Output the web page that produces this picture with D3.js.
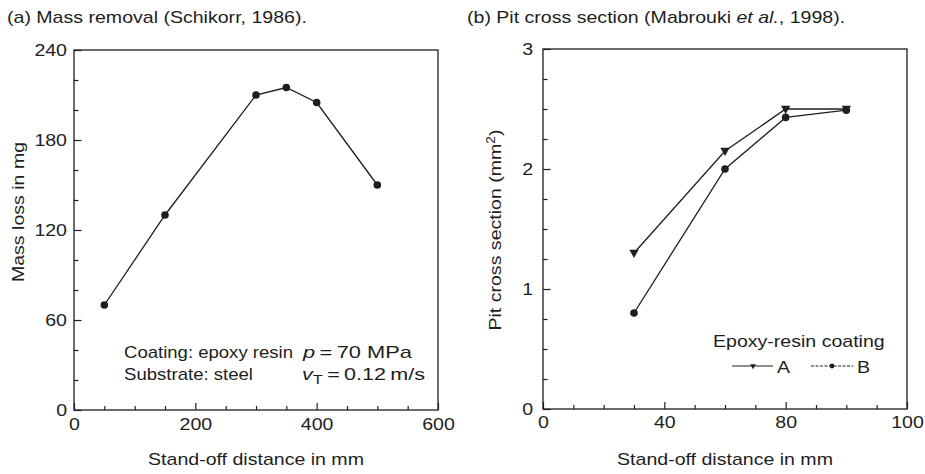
<!DOCTYPE html>
<html><head><meta charset="utf-8">
<script src="https://cdn.jsdelivr.net/npm/d3@7"></script>
<style>
body{margin:0;background:#fff}
text{font-family:"Liberation Sans",Arial,Helvetica,sans-serif;fill:#1e1e1e}
</style>
</head><body>
<svg id="c" width="925" height="474"></svg>
<script>
// ---- data ----
const massDistance = [50, 150, 300, 350, 400, 500];
const massLoss     = [70, 130, 210, 215, 205, 150];
const massXTicks   = [0, 200, 400, 600];
const massYTicks   = [0, 60, 120, 180, 240];

const pitDistance  = [30, 60, 80, 100];
const pitA         = [1.3, 2.15, 2.5, 2.5];
const pitB         = [0.8, 2.0, 2.43, 2.49];
const pitXTicks    = [0, 40, 80, 120];
const pitXTickLabels = ["0", "40", "80", "100"];
const pitYTicks    = [0, 1, 2, 3];
const pitYTickLabels = ["0", "1", "2", "3"];

const ink = "#1e1e1e";
const svg = d3.select("#c");
const FS = 17, STRETCH = 1.15;

function stretch(sel, f) {
  sel.each(function () {
    const l = this.getComputedTextLength();
    this.setAttribute("textLength", (l * f).toFixed(2));
    this.setAttribute("lengthAdjust", "spacingAndGlyphs");
  });
}
function fitTo(sel, w) {
  sel.attr("textLength", w).attr("lengthAdjust", "spacingAndGlyphs");
}

function minorVals(domain, step, majors) {
  const out = [];
  for (let v = domain[0]; v <= domain[1] + 1e-9; v += step) {
    const r = Math.round(v * 1000) / 1000;
    if (!majors.some(m => Math.abs(m - r) < 1e-6)) out.push(r);
  }
  return out;
}

function frame(x, y, o) {
  const g = svg.append("g");
  const [x0, x1] = x.range(), [y0, y1] = y.range();
  const ax = g.append("g").attr("transform", `translate(0,${y0})`)
    .call(d3.axisBottom(x).tickValues(o.xt).tickFormat((d, i) => o.xl[i])
      .tickSizeInner(-7).tickSizeOuter(0).tickPadding(o.xpad));
  ax.select(".domain").remove();
  const axm = g.append("g").attr("transform", `translate(0,${y0})`)
    .call(d3.axisBottom(x).tickValues(minorVals(x.domain(), o.xm, o.xt)).tickFormat("")
      .tickSizeInner(-4).tickSizeOuter(0));
  axm.select(".domain").remove();
  const ay = g.append("g").attr("transform", `translate(${x0},0)`)
    .call(d3.axisLeft(y).tickValues(o.yt).tickFormat((d, i) => o.yl[i])
      .tickSizeInner(-7.5).tickSizeOuter(0).tickPadding(o.ypad));
  ay.select(".domain").remove();
  const aym = g.append("g").attr("transform", `translate(${x0},0)`)
    .call(d3.axisLeft(y).tickValues(minorVals(y.domain(), o.ym, o.yt)).tickFormat("")
      .tickSizeInner(-4.5).tickSizeOuter(0));
  aym.select(".domain").remove();
  g.selectAll("g.tick line").attr("stroke", ink).attr("stroke-width", 1.2);
  [ax, ay, axm, aym].forEach(a => a.attr("font-size", FS).attr("font-family", null));
  g.selectAll("text").attr("fill", ink);
  stretch(g.selectAll("text"), STRETCH);
  g.append("rect").attr("x", x0).attr("y", y1)
    .attr("width", x1 - x0).attr("height", y0 - y1)
    .attr("fill", "none").attr("stroke", ink).attr("stroke-width", 1.3);
  return g;
}

// ---------------- panel (a) ----------------
const xa = d3.scaleLinear().domain([0, 600]).range([74, 438]);
const ya = d3.scaleLinear().domain([0, 240]).range([410, 50]);
frame(xa, ya, {xt: massXTicks, xl: massXTicks.map(String), xm: 50, xpad: 8,
               yt: massYTicks, yl: massYTicks.map(String), ym: 20, ypad: 7});

const massPts = massDistance.map((d, i) => [d, massLoss[i]]);
svg.append("path").datum(massPts)
  .attr("d", d3.line().x(d => xa(d[0])).y(d => ya(d[1])))
  .attr("fill", "none").attr("stroke", ink).attr("stroke-width", 1.3);
svg.append("g").selectAll("circle").data(massPts).join("circle")
  .attr("cx", d => xa(d[0])).attr("cy", d => ya(d[1])).attr("r", 3.8).attr("fill", ink);

// ---------------- panel (b) ----------------
const xb = d3.scaleLinear().domain([0, 120]).range([543, 907]);
const yb = d3.scaleLinear().domain([0, 3]).range([409, 49]);
frame(xb, yb, {xt: pitXTicks, xl: pitXTickLabels, xm: 10, xpad: 7,
               yt: pitYTicks, yl: pitYTickLabels, ym: 0.25, ypad: 10});

const line = d3.line().x(d => xb(d[0])).y(d => yb(d[1]));
const ptsA = pitDistance.map((d, i) => [d, pitA[i]]);
const ptsB = pitDistance.map((d, i) => [d, pitB[i]]);
svg.append("path").datum(ptsA).attr("d", line)
  .attr("fill", "none").attr("stroke", ink).attr("stroke-width", 1.3);
svg.append("path").datum(ptsB).attr("d", line)
  .attr("fill", "none").attr("stroke", ink).attr("stroke-width", 1.3);
const tri = d3.symbol().type(d3.symbolTriangle);
svg.append("g").selectAll("path").data(ptsA).join("path")
  .attr("d", tri.size(38)())
  .attr("transform", d => `translate(${xb(d[0])},${yb(d[1]) - 0.5}) rotate(180)`)
  .attr("fill", ink);
svg.append("g").selectAll("circle").data(ptsB).join("circle")
  .attr("cx", d => xb(d[0])).attr("cy", d => yb(d[1])).attr("r", 3.8).attr("fill", ink);

// ---------------- texts ----------------
const T = [];
function txt(x, y, s, anchor, auto) {
  const t = svg.append("text").attr("x", x).attr("y", y).attr("font-size", FS)
    .attr("text-anchor", anchor || "start");
  if (s !== undefined) t.text(s);
  if (auto !== false) T.push(t);
  return t;
}
txt(7, 23, "(a) Mass removal (Schikorr, 1986).");
const tb = txt(467, 23);
tb.append("tspan").text("(b) Pit cross section (Mabrouki ");
tb.append("tspan").attr("font-style", "italic").text("et al.");
tb.append("tspan").text(", 1998).");

txt(256, 465, "Stand-off distance in mm", "middle");
txt(725, 465, "Stand-off distance in mm", "middle");

txt(0, 0, "Mass loss in mg", "middle").attr("transform", "translate(24,212) rotate(-90)");
const yl = txt(0, 0, undefined, "middle").attr("transform", "translate(501,230) rotate(-90)");
yl.append("tspan").text("Pit cross section (mm");
yl.append("tspan").attr("dy", -6).attr("font-size", 12).text("2");
yl.append("tspan").attr("dy", 6).text(")");

// annotation panel (a)
fitTo(txt(124, 358, "Coating: epoxy resin", "start", false), 169);
fitTo(txt(124, 380, "Substrate: steel", "start", false), 129);
const p1 = txt(303, 358, undefined, "start", false);
p1.append("tspan").attr("font-style", "italic").text("p");
p1.append("tspan").text("\u2009=\u200970 MPa");
fitTo(p1, 109);
const p2 = txt(302, 380, undefined, "start", false);
p2.append("tspan").attr("font-style", "italic").text("v");
p2.append("tspan").attr("dy", 4).attr("font-size", 13).text("T");
p2.append("tspan").attr("dy", -4).text("\u2009=\u20090.12\u2009m/s");
fitTo(p2, 123);

// legend panel (b)
txt(713, 347, "Epoxy-resin coating");
txt(777, 373, "A");
txt(857, 373, "B");
T.forEach(t => stretch(t, STRETCH));

const lg = svg.append("g");
lg.append("line").attr("x1", 732).attr("x2", 773).attr("y1", 366).attr("y2", 366)
  .attr("stroke", ink).attr("stroke-width", 1.2);
lg.append("path").attr("d", tri.size(14)()).attr("transform", "translate(753,366) rotate(180)").attr("fill", ink);
lg.append("line").attr("x1", 811).attr("x2", 853).attr("y1", 366).attr("y2", 366)
  .attr("stroke", ink).attr("stroke-width", 1).attr("stroke-dasharray", "3,1.5");
lg.append("circle").attr("cx", 832).attr("cy", 366).attr("r", 2.4).attr("fill", ink);
</script>
</body></html>
